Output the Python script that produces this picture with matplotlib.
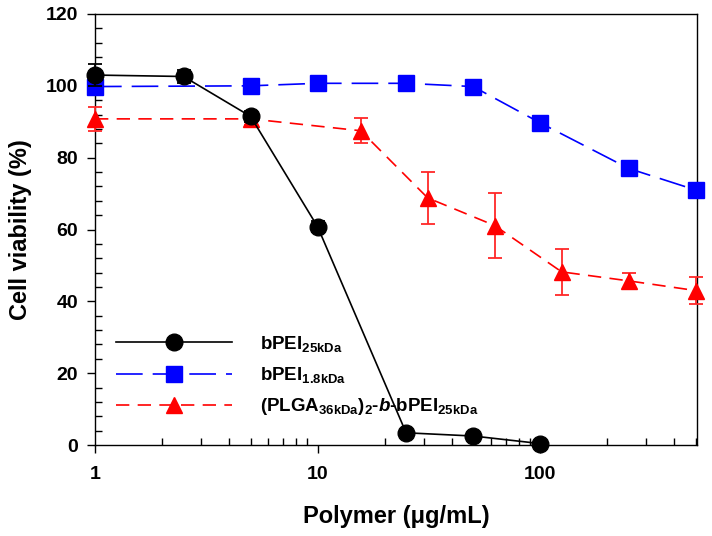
import numpy as np
import matplotlib
matplotlib.use('Agg')
import matplotlib.pyplot as plt
from matplotlib.lines import Line2D
from matplotlib.ticker import MultipleLocator, LogLocator, FixedLocator, NullFormatter

plt.rcParams['font.family'] = ['Liberation Sans', 'DejaVu Sans']
plt.rcParams['font.weight'] = 'bold'
plt.rcParams['mathtext.fontset'] = 'custom'
plt.rcParams['mathtext.rm'] = 'Liberation Sans:bold'
plt.rcParams['mathtext.bf'] = 'Liberation Sans:bold'
plt.rcParams['mathtext.it'] = 'Liberation Sans:bold:italic'

# data
conc_25 = [1, 2.5, 5, 10, 25, 50, 100]
via_25 = [103.0, 102.6, 91.5, 60.8, 3.4, 2.5, 0.4]
err_25 = [3.0, 1.8, 1.5, 1.5, 0.8, 0.8, 0.5]

conc_18 = [1, 5, 10, 25, 50, 100, 250, 500]
via_18 = [99.8, 100.0, 100.7, 100.7, 99.8, 89.7, 77.0, 71.0]
err_18 = [1.5, 1.0, 1.0, 1.0, 1.5, 1.5, 1.0, 1.2]

conc_pl = [1, 5, 15.625, 31.25, 62.5, 125, 250, 500]
via_pl = [90.8, 90.8, 87.5, 68.8, 61.1, 48.2, 45.7, 43.0]
err_pl = [3.3, 1.8, 3.5, 7.3, 9.1, 6.4, 2.1, 3.8]

labels = [r'bPEI$_{\mathrm{25kDa}}$',
          r'bPEI$_{\mathrm{1.8kDa}}$',
          r'(PLGA$_{\mathrm{36kDa}}$)$_{\mathrm{2}}$-$\mathit{b}$-bPEI$_{\mathrm{25kDa}}$']

fig = plt.figure(figsize=(7.12, 5.36), dpi=100)
ax = fig.add_axes([95 / 712, 91 / 536, 602 / 712, 431 / 536])

red_style = dict(color='#ff0000', marker='^', markersize=12, linewidth=1.2, dashes=(8, 5))
blue_style = dict(color='#0000ff', marker='s', markersize=11, linewidth=1.2, dashes=(16, 6))
black_style = dict(color='black', marker='o', markersize=12, linewidth=1.2)

# red series
ax.errorbar(conc_pl, via_pl, yerr=err_pl, ecolor='#ff2828', elinewidth=1.3,
            capsize=5, capthick=1.3, clip_on=False, zorder=3, **red_style)
# blue series
ax.errorbar(conc_18, via_18, yerr=err_18, ecolor='#0000ff', elinewidth=1.3,
            capsize=5, capthick=1.3, clip_on=False, zorder=4, **blue_style)
# black series
ax.errorbar(conc_25, via_25, yerr=err_25, ecolor='black', elinewidth=1.3,
            capsize=5, capthick=1.3, clip_on=False, zorder=5, **black_style)

ax.set_xscale('log')
ax.set_xlim(1, 507)
ax.set_ylim(0, 120)

ax.xaxis.set_major_locator(FixedLocator([1, 10, 100]))
ax.xaxis.set_major_formatter(plt.FuncFormatter(lambda v, p: '%d' % v))
ax.xaxis.set_minor_locator(LogLocator(base=10, subs=np.arange(2, 10), numticks=20))
ax.xaxis.set_minor_formatter(NullFormatter())
ax.yaxis.set_major_locator(MultipleLocator(20))
ax.yaxis.set_minor_locator(MultipleLocator(4))

ax.tick_params(which='major', direction='out', length=6, width=1, labelsize=14, pad=6)
ax.tick_params(which='minor', direction='in', length=5, width=1)
ax.tick_params(axis='x', which='major', pad=9)
for sp in ax.spines.values():
    sp.set_linewidth(1)

ax.set_xlabel('Polymer (\u03bcg/mL)', fontsize=17, fontweight='bold', labelpad=16)
ax.set_ylabel('Cell viability (%)', fontsize=17, fontweight='bold', labelpad=10)

# legend without error bars
handles = [Line2D([], [], **black_style),
           Line2D([], [], **blue_style),
           Line2D([], [], **red_style)]
leg = ax.legend(handles, labels, loc='lower left', bbox_to_anchor=(0.007, 0.025),
                frameon=False, fontsize=13.5, handlelength=6.2, handletextpad=1.5,
                labelspacing=0.6, numpoints=1)

fig.savefig('out.png', dpi=100)
